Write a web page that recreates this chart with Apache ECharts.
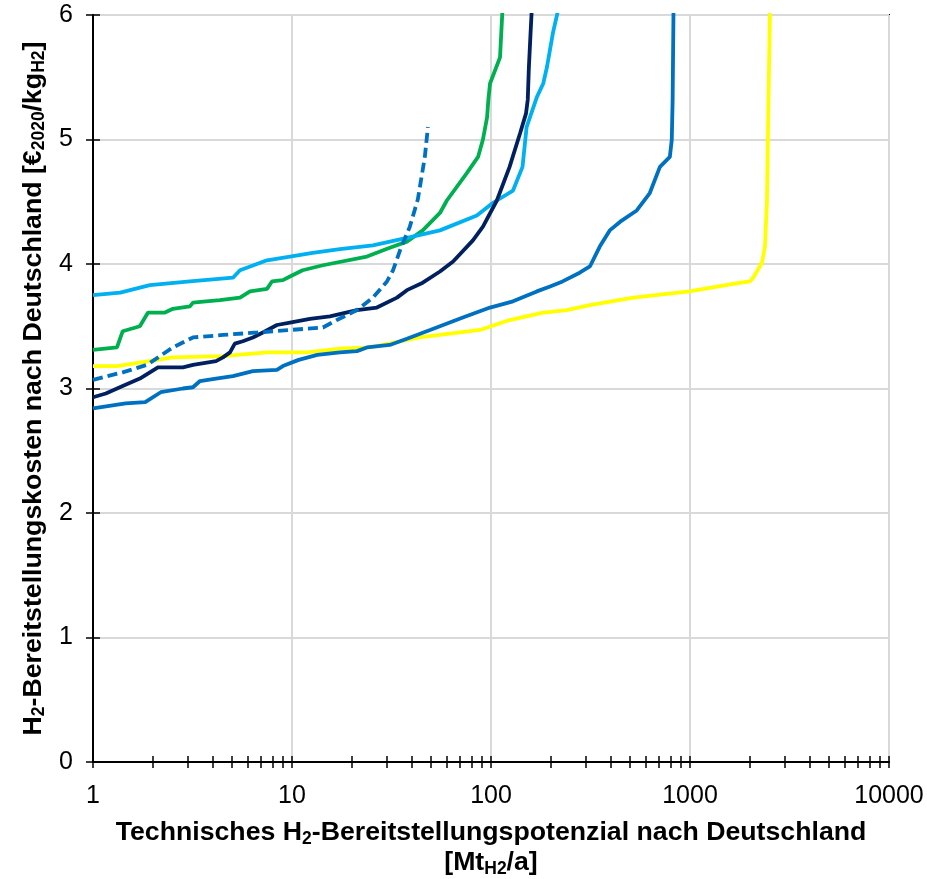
<!DOCTYPE html>
<html><head><meta charset="utf-8">
<script src="https://cdn.jsdelivr.net/npm/echarts@6/dist/echarts.min.js"></script>
<style>html,body{margin:0;padding:0;background:#fff}#c{width:927px;height:879px}</style>
</head><body><div id="c"></div>
<script>
// ---- tick values ----
const xTickLabels = [1, 10, 100, 1000, 10000];
const xTickMarks = [1,2,3,4,5,6,7,8,9,10,20,30,40,50,60,70,80,90,100,200,300,400,500,600,700,800,900,1000,2000,3000,4000,5000,6000,7000,8000,9000,10000];
const yTicks = [0, 1, 2, 3, 4, 5, 6];

// ---- series values (x: Mt/a, y: €/kg) ----
const yellowX = [1, 1.32, 2.52, 4.50, 7.49, 11.9, 17.4, 24.7, 43.9, 88, 124, 183, 240, 314, 519, 993, 1645, 2000, 2078, 2300, 2380, 2437, 2480, 2523];
const yellowY = [3.18, 3.18, 3.25, 3.26, 3.29, 3.29, 3.32, 3.33, 3.41, 3.47, 3.55, 3.61, 3.63, 3.67, 3.73, 3.78, 3.84, 3.86, 3.89, 4.01, 4.14, 4.51, 5.32, 6.02];

const blueX = [1, 1.46, 1.83, 2.19, 2.83, 3.18, 3.45, 4.15, 5.05, 6.36, 8.4, 9.0, 10.8, 13.4, 17.4, 21.2, 23.8, 31.0, 37.8, 49.4, 72.2, 98.9, 129, 170, 198, 229, 279, 314, 352, 395, 446, 540, 628, 706, 792, 810, 818, 826];
const blueY = [2.84, 2.88, 2.89, 2.97, 3.00, 3.01, 3.06, 3.08, 3.10, 3.14, 3.15, 3.18, 3.23, 3.27, 3.29, 3.30, 3.33, 3.35, 3.40, 3.47, 3.57, 3.65, 3.70, 3.78, 3.82, 3.86, 3.93, 3.98, 4.14, 4.27, 4.34, 4.43, 4.57, 4.78, 4.86, 5.00, 5.32, 6.02];

const greenX = [1, 1.32, 1.41, 1.72, 1.89, 2.30, 2.52, 3.07, 3.18, 3.70, 4.34, 5.48, 6.15, 7.49, 7.93, 9.0, 9.77, 11.3, 14.3, 23.8, 31.0, 37.8, 45.4, 55.4, 60.0, 75.6, 86.1, 91.1, 95.6, 97, 98.9, 111, 114];
const greenY = [3.31, 3.33, 3.46, 3.50, 3.61, 3.61, 3.64, 3.66, 3.69, 3.70, 3.71, 3.73, 3.78, 3.80, 3.86, 3.87, 3.90, 3.95, 3.99, 4.06, 4.13, 4.18, 4.27, 4.41, 4.51, 4.73, 4.86, 5.00, 5.18, 5.32, 5.45, 5.66, 6.02];

const lightX = [1, 1.37, 1.93, 3.07, 5.05, 5.48, 7.49, 9.77, 12.7, 17.4, 25.5, 37.8, 55.4, 84.9, 102, 129, 144, 151, 157, 170, 183, 191, 205, 216];
const lightY = [3.75, 3.77, 3.83, 3.86, 3.89, 3.95, 4.03, 4.06, 4.09, 4.12, 4.15, 4.21, 4.27, 4.39, 4.49, 4.59, 4.78, 5.10, 5.18, 5.34, 5.45, 5.58, 5.86, 6.02];

const navyX = [1, 1.16, 1.41, 1.72, 2.12, 2.83, 3.18, 4.15, 4.50, 4.88, 5.16, 5.66, 6.36, 7.14, 8.4, 9.77, 12.3, 15.5, 21.2, 26.7, 33.7, 37.8, 45.4, 55.4, 64.5, 81.1, 91.1, 107, 124, 140, 150, 153, 155, 158, 160];
const navyY = [2.93, 2.96, 3.02, 3.08, 3.17, 3.17, 3.19, 3.22, 3.25, 3.29, 3.36, 3.38, 3.41, 3.45, 3.51, 3.53, 3.56, 3.58, 3.63, 3.65, 3.73, 3.79, 3.85, 3.94, 4.02, 4.19, 4.30, 4.51, 4.78, 5.05, 5.21, 5.32, 5.58, 5.85, 6.02];

const dashX = [1, 1.41, 1.87, 2.52, 3.18, 4.50, 6.68, 9.77, 14.3, 16.8, 21.2, 25.5, 30.0, 32.2, 34.9, 39.1, 42.9, 46.5, 48.2];
const dashY = [3.07, 3.13, 3.19, 3.33, 3.41, 3.43, 3.45, 3.47, 3.49, 3.55, 3.63, 3.73, 3.86, 3.95, 4.11, 4.30, 4.52, 4.86, 5.10];

const zip = (xs, ys) => xs.map((x, i) => [x, ys[i]]);

const FONT = 'Liberation Sans, Arial, sans-serif';
const rich = {
  b: { fontSize: 26.7, fontWeight: 'bold', fontFamily: FONT, color: '#000', lineHeight: 30 },
  s: { fontSize: 17.5, fontWeight: 'bold', fontFamily: FONT, color: '#000', lineHeight: 16, verticalAlign: 'bottom' }
};

function line(name, xs, ys, color, dashed) {
  return {
    name, type: 'line', xAxisIndex: 0, yAxisIndex: 0,
    data: zip(xs, ys), showSymbol: false, symbol: 'none',
    lineStyle: { color, width: 3.8, type: dashed ? [10, 5] : 'solid' },
    itemStyle: { color }, clip: true, silent: true
  };
}

const tickStyle = { color: '#000', width: 1.5 };
const xBase = { type: 'log', logBase: 10, min: 1, max: 10000, position: 'bottom' };
const yBase = { type: 'value', min: 0, max: 6, interval: 1, position: 'left' };

const chart = echarts.init(document.getElementById('c'), null, { renderer: 'canvas' });
chart.setOption({
  animation: false,
  backgroundColor: '#fff',
  grid: { left: 93, right: 38, top: 15, bottom: 117, containLabel: false, outerBoundsMode: 'none', show: true, borderColor: '#000', borderWidth: 2, backgroundColor: 'transparent' },
  xAxis: [
    Object.assign({}, xBase, {
      name: '{b|Technisches H}{s|2}{b|-Bereitstellungspotenzial nach Deutschland}\n{b|[Mt}{s|H2}{b|/a]}',
      nameLocation: 'middle', nameGap: 56,
      nameTextStyle: { rich, align: 'center' },
      axisLine: { show: true, lineStyle: { color: '#000', width: 2 } },
      axisTick: { show: false },
      axisLabel: { margin: 22, fontSize: 25, fontFamily: FONT, color: '#000', formatter: v => String(v) },
      splitLine: { show: true, lineStyle: { color: '#d9d9d9', width: 2 } }
    }),
    Object.assign({}, xBase, {
      axisLine: { show: false },
      axisTick: { show: true, inside: false, length: 6, customValues: xTickMarks, lineStyle: tickStyle },
      axisLabel: { show: false }, splitLine: { show: false }
    }),
    Object.assign({}, xBase, {
      axisLine: { show: false },
      axisTick: { show: true, inside: true, length: 6, customValues: xTickMarks, lineStyle: tickStyle },
      axisLabel: { show: false }, splitLine: { show: false }
    })
  ],
  yAxis: [
    Object.assign({}, yBase, {
      name: '{b|H}{s|2}{b|-Bereitstellungskosten nach Deutschland [€}{s|2020}{b|/kg}{s|H2}{b|]}',
      nameLocation: 'middle', nameGap: 38, nameRotate: 90,
      nameTextStyle: { rich },
      axisLine: { show: true, lineStyle: { color: '#000', width: 2 } },
      axisTick: { show: true, inside: false, length: 7, lineStyle: tickStyle },
      axisLabel: { margin: 20, fontSize: 25, fontFamily: FONT, color: '#000' },
      splitLine: { show: true, lineStyle: { color: '#d9d9d9', width: 2 } }
    }),
    Object.assign({}, yBase, {
      axisLine: { show: false },
      axisTick: { show: true, inside: true, length: 7, customValues: yTicks, lineStyle: tickStyle },
      axisLabel: { show: false }, splitLine: { show: false }
    })
  ],
  series: [
    line('Gelb', yellowX, yellowY, '#FFFF00', false),
    line('Blau', blueX, blueY, '#0070C0', false),
    line('Grün', greenX, greenY, '#00B050', false),
    line('Hellblau', lightX, lightY, '#00B0F0', false),
    line('Dunkelblau', navyX, navyY, '#002060', false),
    line('Blau gestrichelt', dashX, dashY, '#0070C0', true)
  ]
});
</script></body></html>
